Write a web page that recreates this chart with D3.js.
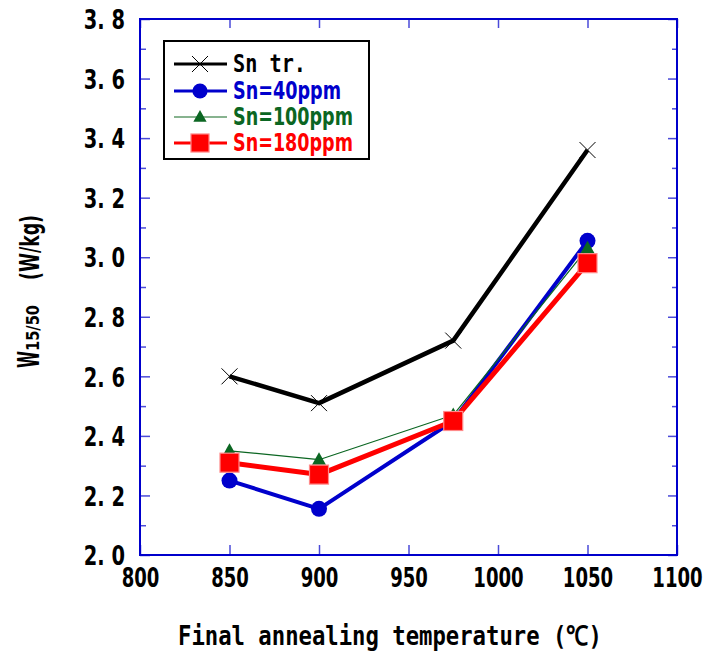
<!DOCTYPE html>
<html>
<head>
<meta charset="utf-8">
<script src="https://cdn.jsdelivr.net/npm/d3@7"></script>
<style>
  html, body { margin: 0; padding: 0; background: #fff; }
  svg { display: block; }
</style>
</head>
<body>
<svg id="chart" width="707" height="657"></svg>
<script>
// Annealing temperature (°C) and iron loss W15/50 (W/kg) per Sn level
const temps = [850, 900, 975, 1050];
const snTr  = [2.60, 2.51, 2.72, 3.36];
const sn40  = [2.25, 2.155, 2.45, 3.055];
const sn100 = [2.35, 2.32, 2.47, 3.03];
const sn180 = [2.31, 2.27, 2.45, 2.98];

const seriesNames = ["Sn tr.", "Sn=40ppm", "Sn=100ppm", "Sn=180ppm"];
const xTicks = [800, 850, 900, 950, 1000, 1050, 1100];
const yTicks = [2.0, 2.2, 2.4, 2.6, 2.8, 3.0, 3.2, 3.4, 3.6, 3.8];

const m = { left: 140, right: 677, top: 19, bottom: 555 };

const svg = d3.select("#chart");
const x = d3.scaleLinear().domain([800, 1100]).range([m.left, m.right]);
const y = d3.scaleLinear().domain([2.0, 3.8]).range([m.bottom, m.top]);

const axisBlue = "#0000cc";
const tickBlue = "#4a4ad8";
const numFont = "'DejaVu Sans', sans-serif";

// Minor y ticks (every 0.1) on both sides
const yMinor = d3.range(2.1, 3.8, 0.2).map(v => +v.toFixed(1));

function styleAxis(g) {
  g.select(".domain").remove();
  g.selectAll(".tick line").attr("stroke", tickBlue).attr("stroke-width", 1.5);
}

// Condensed bold numerals (horizontal squeeze keeps the tall digits)
function styleNums(g, sx) {
  g.selectAll(".tick text")
    .attr("font-family", numFont).attr("font-weight", "bold")
    .attr("font-size", 27).attr("fill", "#000")
    .attr("transform", `scale(${sx},1)`);
}

// Left axis: major ticks inward with labels
const ySx = 0.72;
svg.append("g")
  .attr("transform", `translate(${m.left},0)`)
  .call(d3.axisLeft(y).tickValues(yTicks).tickSize(-10).tickPadding(25)
        .tickFormat(d => d3.format(".1f")(d).replace(".", ". ")))
  .call(styleAxis)
  .call(g => styleNums(g, ySx))
  .call(g => g.selectAll(".tick text").attr("x", -15 / ySx).attr("dy", "0.36em"));

svg.append("g")
  .attr("transform", `translate(${m.left},0)`)
  .call(d3.axisLeft(y).tickValues(yMinor).tickSize(-6).tickFormat(""))
  .call(styleAxis);

// Right axis: inward ticks only
svg.append("g")
  .attr("transform", `translate(${m.right},0)`)
  .call(d3.axisRight(y).tickValues(yTicks).tickSize(-9).tickFormat(""))
  .call(styleAxis);
svg.append("g")
  .attr("transform", `translate(${m.right},0)`)
  .call(d3.axisRight(y).tickValues(yMinor).tickSize(-5).tickFormat(""))
  .call(styleAxis);

// Bottom axis
svg.append("g")
  .attr("transform", `translate(0,${m.bottom})`)
  .call(d3.axisBottom(x).tickValues(xTicks).tickSize(-10).tickPadding(13)
        .tickFormat(d3.format("d")))
  .call(styleAxis)
  .call(g => styleNums(g, 0.67))
  .call(g => g.selectAll(".tick text").attr("dy", "0.71em"));

// Top axis: inward ticks only
svg.append("g")
  .attr("transform", `translate(0,${m.top})`)
  .call(d3.axisTop(x).tickValues(xTicks).tickSize(-9).tickFormat(""))
  .call(styleAxis);

// Plot frame
svg.append("rect")
  .attr("x", m.left).attr("y", m.top)
  .attr("width", m.right - m.left).attr("height", m.bottom - m.top)
  .attr("fill", "none").attr("stroke", axisBlue).attr("stroke-width", 2);

// Series styles
const series = [
  { name: seriesNames[0], values: snTr,  color: "#000000", lw: 4.5, marker: "cross",    text: "#000000", legLw: 3 },
  { name: seriesNames[1], values: sn40,  color: "#0000cc", lw: 4,   marker: "circle",   text: "#0000cc", legLw: 3 },
  { name: seriesNames[2], values: sn100, color: "#0b6622", lw: 1.2, marker: "triangle", text: "#0b6622", legLw: 1.5 },
  { name: seriesNames[3], values: sn180, color: "#ff0000", lw: 5,   marker: "square",   text: "#ff0000", legLw: 3 }
];

function drawMarker(g, type, cx, cy, color, scale = 1) {
  if (type === "cross") {
    const s = 8 * scale;
    g.append("path")
      .attr("d", `M${cx - s},${cy - s}L${cx + s},${cy + s}M${cx - s},${cy + s}L${cx + s},${cy - s}`)
      .attr("stroke", "#000").attr("stroke-width", 1).attr("fill", "none");
  } else if (type === "circle") {
    g.append("circle").attr("cx", cx).attr("cy", cy).attr("r", 8 * scale).attr("fill", color);
  } else if (type === "triangle") {
    const w = 7 * scale, h = 12.5 * scale;
    g.append("path")
      .attr("d", `M${cx},${cy - h * 0.6}L${cx + w},${cy + h * 0.4}L${cx - w},${cy + h * 0.4}Z`)
      .attr("fill", color);
  } else if (type === "square") {
    const s = 9.5 * scale;
    g.append("rect").attr("x", cx - s).attr("y", cy - s)
      .attr("width", 2 * s).attr("height", 2 * s)
      .attr("fill", color).attr("stroke", "#ff8a8a").attr("stroke-width", 1.2);
  }
}

const line = d3.line().x(d => x(d[0])).y(d => y(d[1]));

series.forEach(s => {
  const g = svg.append("g");
  const pts = temps.map((t, i) => [t, s.values[i]]);
  g.append("path").datum(pts)
    .attr("d", line)
    .attr("fill", "none").attr("stroke", s.color)
    .attr("stroke-width", s.lw).attr("stroke-linejoin", "round");
  pts.forEach(p => drawMarker(g, s.marker, x(p[0]), y(p[1]), s.color));
});

// Legend
const leg = svg.append("g");
leg.append("rect").attr("x", 164).attr("y", 41).attr("width", 205).attr("height", 118)
  .attr("fill", "#fff").attr("stroke", "#000").attr("stroke-width", 2);
const rowY = [64, 91, 117, 143];
const legWidths = [73, 108, 120, 120];
series.forEach((s, i) => {
  const cy = rowY[i];
  leg.append("line").attr("x1", 174).attr("x2", 227).attr("y1", cy).attr("y2", cy)
    .attr("stroke", i === 2 ? "#5f9a6a" : s.color).attr("stroke-width", s.legLw);
  drawMarker(leg, s.marker, 200, cy, s.color, i === 0 ? 1 : 0.95);
  leg.append("text")
    .attr("x", 233).attr("y", cy + 8)
    .attr("font-family", i === 0 ? "'DejaVu Sans Mono', monospace" : numFont)
    .attr("font-weight", "bold").attr("font-size", 24)
    .attr("fill", s.text)
    .attr("textLength", legWidths[i]).attr("lengthAdjust", "spacingAndGlyphs")
    .text(s.name);
});

// Axis titles
svg.append("text")
  .attr("x", 178).attr("y", 645)
  .attr("font-family", "'DejaVu Sans Mono', monospace")
  .attr("font-weight", "bold").attr("font-size", 27)
  .attr("textLength", 424).attr("lengthAdjust", "spacingAndGlyphs")
  .text("Final annealing temperature (\u2103)");

const yt = svg.append("g").attr("transform", "translate(39,0) rotate(-90)");
yt.append("text").attr("x", -368).attr("y", 0)
  .attr("font-family", numFont).attr("font-weight", "bold").attr("font-size", 31)
  .attr("textLength", 17).attr("lengthAdjust", "spacingAndGlyphs")
  .text("W");
yt.append("text").attr("x", -351).attr("y", 0)
  .attr("font-family", numFont).attr("font-weight", "bold").attr("font-size", 17)
  .attr("textLength", 46).attr("lengthAdjust", "spacingAndGlyphs")
  .text("15/50");
yt.append("text").attr("x", -280).attr("y", 0)
  .attr("font-family", numFont).attr("font-weight", "bold").attr("font-size", 27)
  .attr("textLength", 65).attr("lengthAdjust", "spacingAndGlyphs")
  .text("(W/kg)");
</script>
</body>
</html>
